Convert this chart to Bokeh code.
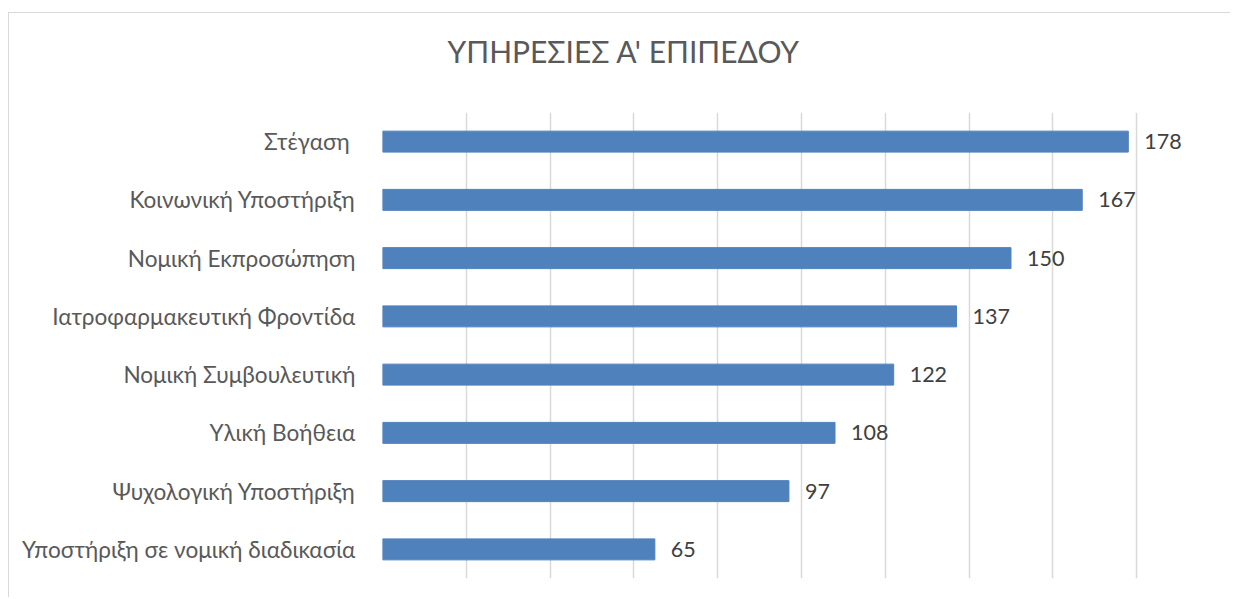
from bokeh.plotting import figure
from bokeh.models import ColumnDataSource, FactorRange, Range1d, FixedTicker, Title, LinearAxis
from bokeh.core.properties import value
from bokeh.embed import file_html
from bokeh.resources import INLINE

title_text = "ΥΠΗΡΕΣΙΕΣ Α' ΕΠΙΠΕΔΟΥ"
categories = [
    "Στέγαση ",
    "Κοινωνική Υποστήριξη",
    "Νομική Εκπροσώπηση",
    "Ιατροφαρμακευτική Φροντίδα",
    "Νομική Συμβουλευτική",
    "Υλική Βοήθεια",
    "Ψυχολογική Υποστήριξη",
    "Υποστήριξη σε νομική διαδικασία",
]
counts = [178, 167, 150, 137, 122, 108, 97, 65]
grid_ticks = [0, 20, 40, 60, 80, 100, 120, 140, 160, 180, 200]

FONT = "Lato"
source = ColumnDataSource(data=dict(cat=categories, val=counts,
                                    lbl=[str(v) for v in counts]))

p = figure(
    width=1222, height=585,
    y_range=FactorRange(*list(reversed(categories))),
    x_range=Range1d(0, 200),
    output_backend="svg", toolbar_location=None,
    min_border_left=373, min_border_right=11,
    min_border_top=99, min_border_bottom=20,
)
p.margin = (12, 0, 0, 8)
p.styles = {"border-top": "1px solid #d9d9d9", "border-left": "1px solid #d9d9d9"}

# invisible spacer axis between the frame and the title (one hidden tick)
spacer = LinearAxis(ticker=FixedTicker(ticks=[0]), major_tick_out=44, major_tick_in=0,
                    minor_tick_out=0, minor_tick_in=0, major_label_standoff=0,
                    major_label_overrides={0: " "}, major_label_text_font_size="1px",
                    major_label_text_alpha=0,
                    axis_line_color=None, major_tick_line_color=None,
                    minor_tick_line_color=None)
p.add_layout(spacer, "above")

p.title = Title(text=title_text, align="left", offset=65, standoff=0,
                vertical_align="bottom",
                text_font=FONT, text_font_size="30px", text_font_style="normal",
                text_color="#595959")

p.hbar(y="cat", right="val", left=0, height=0.36, source=source,
       fill_color="#4F81BD", line_color="#4F81BD")

p.text(x="val", y="cat", text="lbl", source=source,
       x_offset=16, text_baseline="middle", text_align="left",
       text_font=value(FONT), text_font_size="21.5px", text_color="#404040")

p.below[0].visible = False
p.xgrid.ticker = FixedTicker(ticks=grid_ticks)
p.xgrid.grid_line_color = "#d9d9d9"
p.xgrid.grid_line_width = 1.5
p.ygrid.grid_line_color = None

ax = p.yaxis[0]
ax.axis_line_color = None
ax.major_tick_line_color = None
ax.minor_tick_line_color = None
ax.major_tick_out = 0
ax.major_label_standoff = 27
ax.major_label_text_font = FONT
ax.major_label_text_font_size = "22.6px"
ax.major_label_text_color = "#595959"

p.outline_line_color = None

open("out.html", "w").write(file_html(p, INLINE))
